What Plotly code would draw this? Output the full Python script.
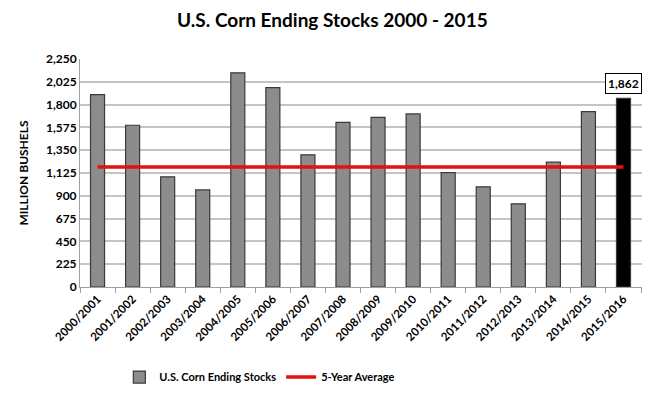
import plotly.graph_objects as go

seasons = ["2000/2001", "2001/2002", "2002/2003", "2003/2004", "2004/2005", "2005/2006",
           "2006/2007", "2007/2008", "2008/2009", "2009/2010", "2010/2011", "2011/2012",
           "2012/2013", "2013/2014", "2014/2015", "2015/2016"]
ending_stocks = [1899, 1596, 1087, 958, 2114, 1967, 1304, 1624, 1673, 1708, 1128, 989,
                 821, 1232, 1731, 1862]
five_year_avg = [1185] * len(seasons)
y_ticks = [0, 225, 450, 675, 900, 1125, 1350, 1575, 1800, 2025, 2250]

FONT = "Lato"
bar_colors = ["#8c8c8c"] * (len(seasons) - 1) + ["#000000"]

fig = go.Figure()
fig.add_trace(go.Bar(
    x=seasons, y=ending_stocks, name="<b>U.S. Corn Ending Stocks</b>",
    marker=dict(color=bar_colors, line=dict(color="#3a3a3a", width=1.2)),
))
fig.add_trace(go.Scatter(
    x=seasons, y=five_year_avg, name="<b>5-Year Average</b>", mode="lines",
    line=dict(color="#e3120b", width=3.5),
))
fig.add_annotation(
    x=seasons[-1], y=ending_stocks[-1], text="<b>1,862</b>", showarrow=False,
    yanchor="bottom", yshift=4, font=dict(family=FONT, size=12, color="#000"),
    bordercolor="#000", borderwidth=1, borderpad=2, bgcolor="#fff",
)

fig.update_layout(
    width=662, height=396,
    margin=dict(l=72, r=28, t=51, b=117, autoexpand=False),
    paper_bgcolor="#ffffff", plot_bgcolor="#ffffff",
    bargap=0.6,
    showlegend=True,
    title=dict(text="<b>U.S. Corn Ending Stocks 2000 - 2015</b>", x=0.49, xanchor="center",
               y=0.97, yanchor="middle", font=dict(family=FONT, size=19, color="#000")),
    legend=dict(orientation="h", x=0.32, xanchor="center", y=-0.395, yanchor="middle",
                font=dict(family=FONT, size=11, color="#000"), itemwidth=30,
                traceorder="normal"),
    font=dict(family=FONT, color="#000"),
)
fig.update_xaxes(
    tickangle=-45, tickfont=dict(family=FONT, size=11.5, color="#000"),
    tickprefix="<b>", ticksuffix="</b>",
    showline=True, linecolor="#a0a0a0", linewidth=1,
    ticks="outside", tickson="boundaries", ticklen=5, tickcolor="#a0a0a0",
    showgrid=False, automargin=False,
)
fig.update_yaxes(
    range=[0, 2250], tickvals=y_ticks,
    ticktext=[f"<b>{v:,}</b>" for v in y_ticks],
    tickfont=dict(family=FONT, size=12, color="#000"),
    showgrid=True, gridcolor="#c4c4c4", gridwidth=1.5,
    showline=True, linecolor="#a0a0a0", linewidth=1,
    zeroline=False, automargin=False,
    title=dict(text="<b>MILLION BUSHELS</b>", font=dict(family=FONT, size=12, color="#000"),
               standoff=14),
)

fig.write_html("out.html")
